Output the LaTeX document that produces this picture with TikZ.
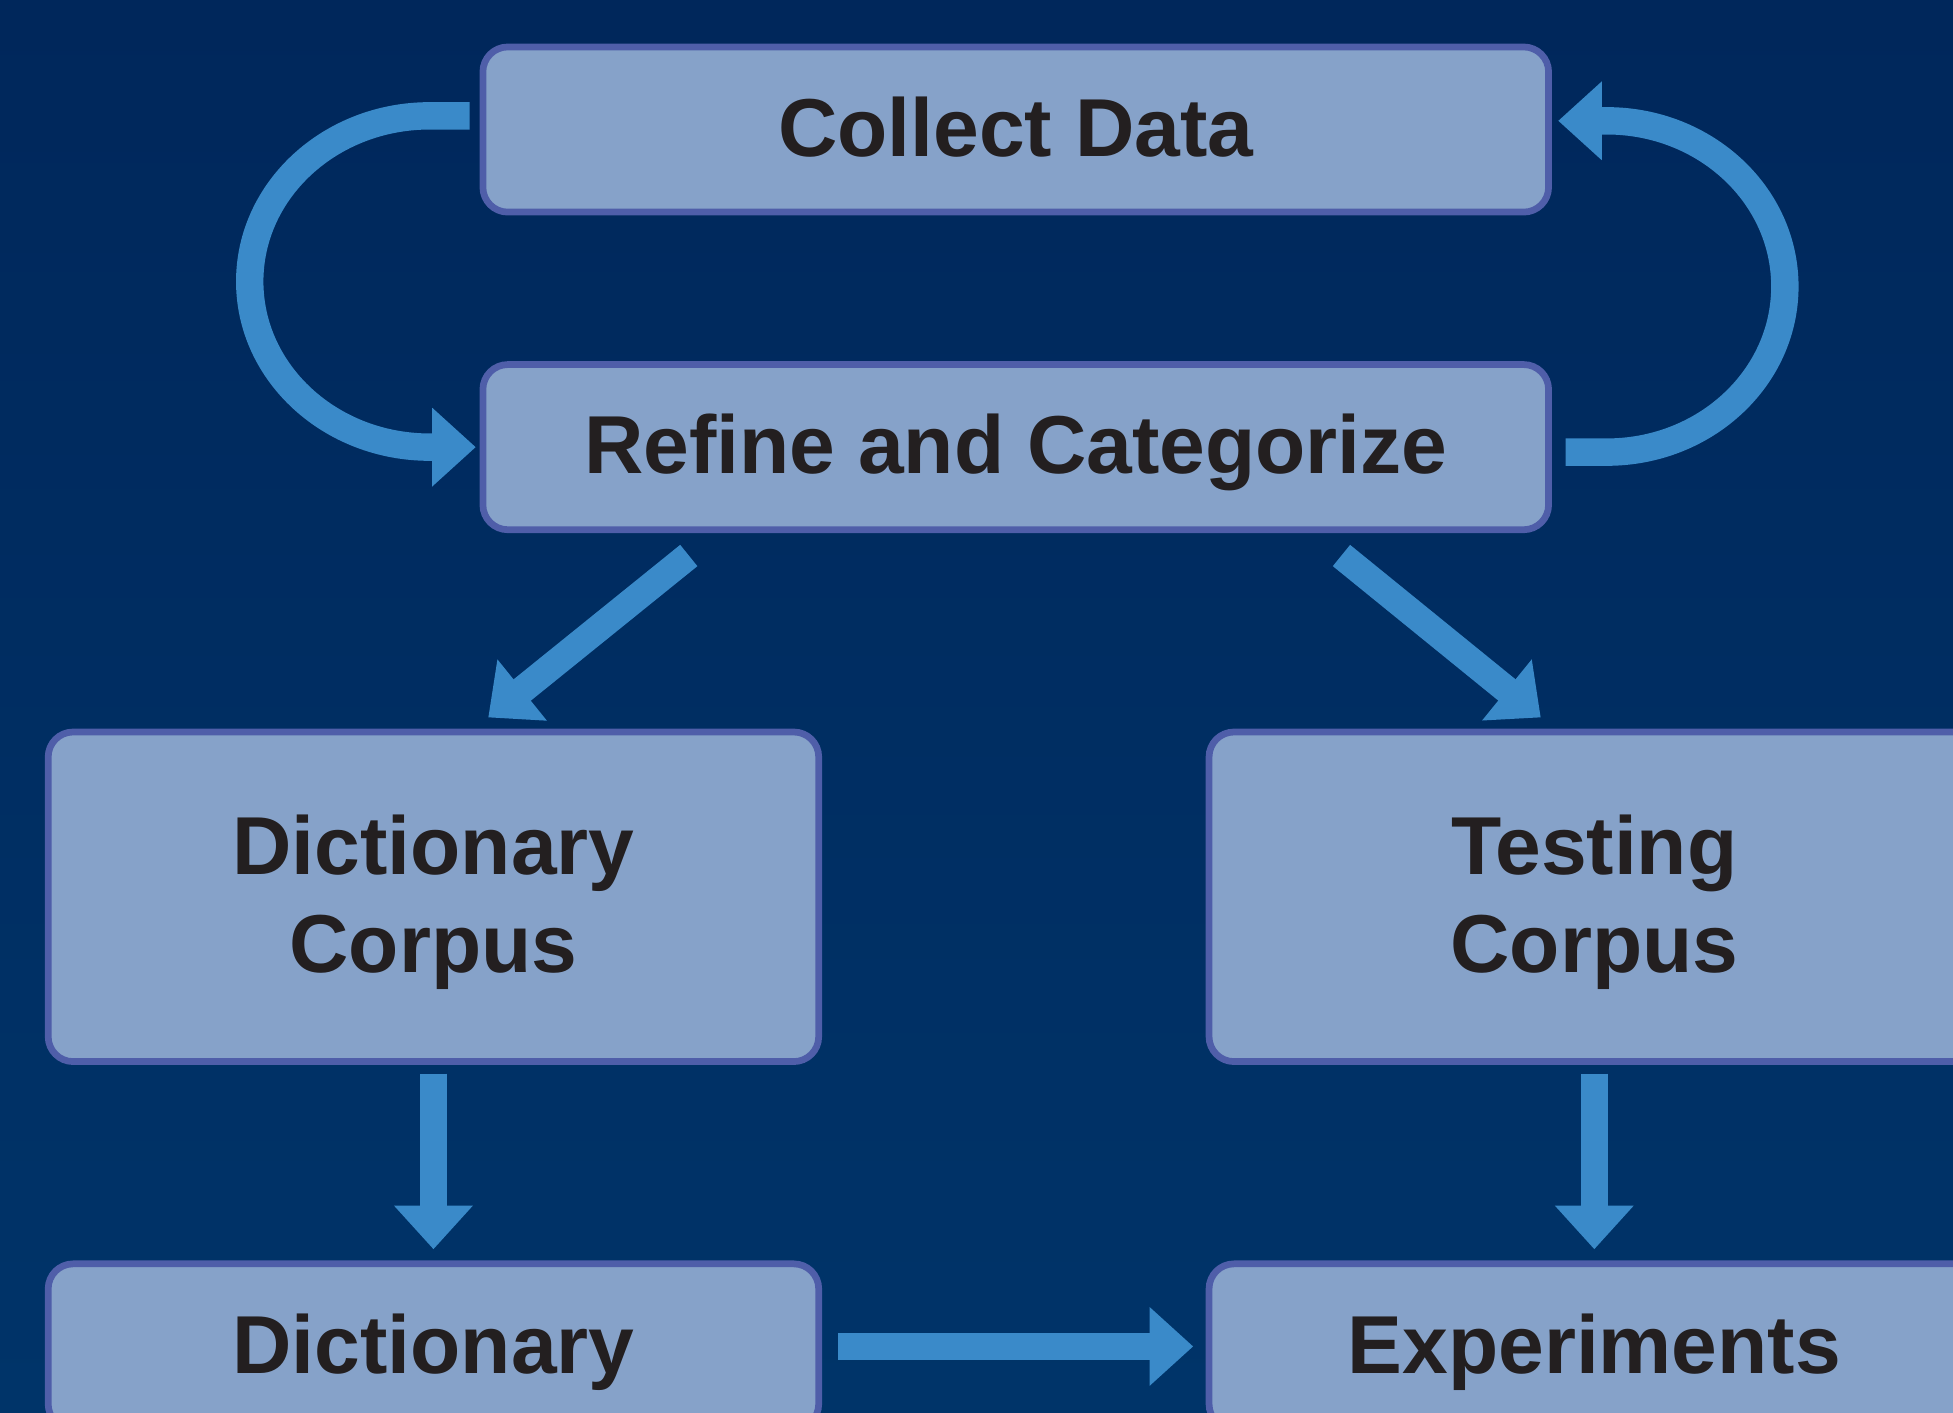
\documentclass[tikz,border=0pt]{standalone}
\usepackage{fontspec}
\setmainfont{Liberation Sans}
\usetikzlibrary{arrows.meta}

\definecolor{navy}{HTML}{002A5E}
\definecolor{navydeep}{HTML}{00275B}
\definecolor{navylight}{HTML}{003469}
\definecolor{boxfill}{HTML}{86A2C9}
\definecolor{boxline}{HTML}{4F5EA9}
\definecolor{arrowblue}{HTML}{3A8AC9}
\definecolor{inkdark}{HTML}{231F20}

\begin{document}
\begin{tikzpicture}[x=0.5pt,y=0.5pt,
  stage/.style={draw=boxline, fill=boxfill, line width=2.7pt, rectangle,
    rounded corners=10pt, align=center, text=inkdark,
    font=\fontsize{33}{39}\selectfont\bfseries, text depth=2.5pt,
    minimum width=427.8pt, minimum height=66.3pt, inner sep=0pt},
  corpus/.style={stage, minimum width=309.3pt, minimum height=132.3pt},
  result/.style={stage, minimum width=309.3pt},
  flow/.style={draw=arrowblue, line width=11pt,
    -{Triangle[length=17.5pt, width=30.5pt]}}]
\useasboundingbox (0,0) rectangle (1568,-1134);
\clip (0,0) rectangle (1568,-1134);
\shade[top color=navydeep, bottom color=navylight] (0,0) rectangle (1568,-1134);

\node[stage] (collect) at (815.5,-104) {Collect Data};
\node[stage] (refine) at (815.5,-359) {Refine and Categorize};
\node[corpus] (dictcorpus) at (348,-720) {Dictionary\\Corpus};
\node[corpus] (testcorpus) at (1280,-720) {Testing\\Corpus};
\node[result] (dict) at (348,-1081) {Dictionary};
\node[result] (expt) at (1280,-1081) {Experiments};

% loop between collecting and refining
\draw[flow] ([xshift=-4pt,yshift=5.5pt]collect.west) -- ++(-16pt,0)
  arc[start angle=90, end angle=270, x radius=72.25pt, y radius=66.5pt]
  -- ([xshift=-1.5pt]refine.west);
\draw[flow] ([xshift=5.5pt,yshift=-2pt]refine.east) -- ++(16.5pt,0)
  arc[start angle=-90, end angle=90, x radius=71.5pt, y radius=66.5pt]
  -- ([xshift=2.5pt,yshift=3.5pt]collect.east);

\draw[flow] ([xshift=84pt,yshift=-9pt]refine.south west)
  -- ([xshift=22pt,yshift=4.5pt]dictcorpus.north);
\draw[flow] ([xshift=-84.5pt,yshift=-9pt]refine.south east)
  -- ([xshift=-21.5pt,yshift=4.5pt]testcorpus.north);
\draw[flow] ([yshift=-3.5pt]dictcorpus.south) -- ([yshift=4.5pt]dict.north);
\draw[flow] ([yshift=-3.5pt]testcorpus.south) -- ([yshift=4.5pt]expt.north);
\draw[flow] ([xshift=6.5pt]dict.east) -- ([xshift=-5pt]expt.west);
\end{tikzpicture}
\end{document}
